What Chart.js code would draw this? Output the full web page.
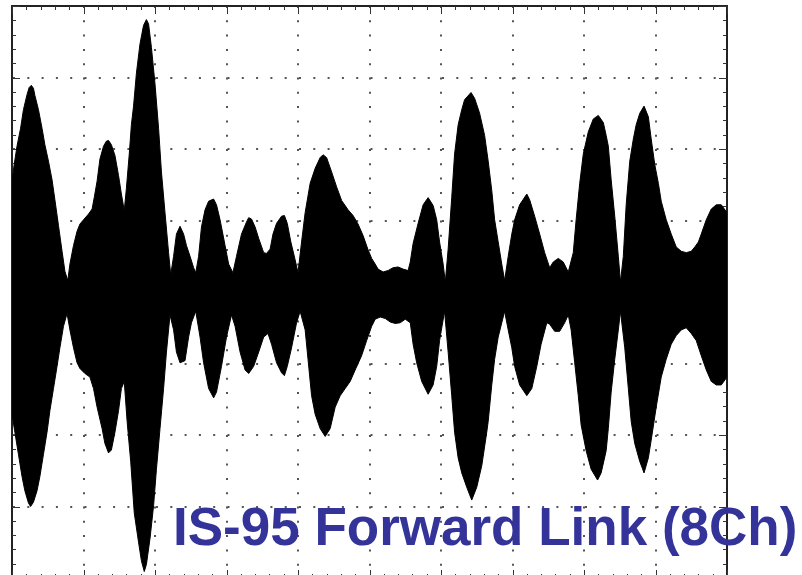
<!DOCTYPE html>
<html>
<head>
<meta charset="utf-8">
<script src="https://cdn.jsdelivr.net/npm/chart.js@4.4.0/dist/chart.umd.min.js"></script>
<style>
html,body{margin:0;padding:0;background:#fff;overflow:hidden;width:802px;height:575px;}
#wrap{position:relative;width:802px;height:575px;overflow:hidden;}
#c{position:absolute;left:0;top:0;}
#title{position:absolute;left:173px;top:500px;font-family:"Liberation Sans",Arial,sans-serif;font-weight:bold;font-size:53px;line-height:53px;color:#333399;white-space:nowrap;}
</style>
</head>
<body>
<div id="wrap">
<canvas id="c" width="802" height="580"></canvas>
<div id="title">IS-95 Forward Link (8Ch)</div>
</div>
<script>
// time in horizontal divisions, level in vertical divisions
const upperTime = [0, 0.03, 0.07, 0.12, 0.16, 0.21, 0.24, 0.27, 0.30, 0.32,
  0.37, 0.42, 0.46, 0.51, 0.56, 0.60, 0.65, 0.70, 0.74, 0.78,
  0.81, 0.86, 0.91, 0.95, 1.00, 1.07, 1.12, 1.15, 1.19, 1.23,
  1.28, 1.32, 1.35, 1.39, 1.44, 1.49, 1.53, 1.57, 1.60, 1.64,
  1.67, 1.70, 1.74, 1.79, 1.84, 1.88, 1.91, 1.95, 2.00, 2.05,
  2.09, 2.14, 2.19, 2.22, 2.26, 2.30, 2.35, 2.40, 2.44, 2.49,
  2.54, 2.57, 2.61, 2.65, 2.70, 2.75, 2.82, 2.86, 2.91, 2.98,
  3.03, 3.09, 3.14, 3.21, 3.28, 3.31, 3.35, 3.40, 3.45, 3.52,
  3.56, 3.61, 3.65, 3.70, 3.77, 3.81, 3.85, 3.90, 3.96, 4.00,
  4.05, 4.10, 4.17, 4.24, 4.31, 4.35, 4.40, 4.47, 4.54, 4.61,
  4.70, 4.77, 4.84, 4.91, 4.98, 5.03, 5.08, 5.12, 5.19, 5.26,
  5.33, 5.40, 5.47, 5.54, 5.57, 5.61, 5.68, 5.75, 5.82, 5.89,
  5.94, 5.98, 6.03, 6.06, 6.10, 6.15, 6.19, 6.24, 6.29, 6.33,
  6.42, 6.47, 6.54, 6.61, 6.66, 6.71, 6.75, 6.80, 6.85, 6.89,
  6.94, 6.99, 7.03, 7.10, 7.20, 7.24, 7.31, 7.38, 7.45, 7.52,
  7.57, 7.64, 7.71, 7.78, 7.85, 7.89, 7.94, 7.99, 8.06, 8.13,
  8.20, 8.27, 8.31, 8.34, 8.38, 8.43, 8.48, 8.51, 8.55, 8.59,
  8.64, 8.69, 8.73, 8.78, 8.84, 8.90, 8.94, 8.99, 9.04, 9.08,
  9.15, 9.22, 9.29, 9.36, 9.43, 9.50, 9.55, 9.60, 9.64, 9.71,
  9.78, 9.85, 9.92, 10.00];
const upperLevel = [1.55, 1.78, 2.04, 2.29, 2.55, 2.76, 2.86, 2.89, 2.85, 2.75,
  2.55, 2.29, 2.06, 1.83, 1.57, 1.29, 0.93, 0.57, 0.29, 0.16,
  0.39, 0.65, 0.85, 0.95, 1.01, 1.09, 1.16, 1.32, 1.55, 1.86,
  2.04, 2.11, 2.12, 2.06, 1.91, 1.63, 1.37, 1.14, 1.45, 1.93,
  2.34, 2.60, 3.06, 3.47, 3.73, 3.81, 3.75, 3.42, 2.91, 2.29,
  1.68, 1.11, 0.55, 0.24, 0.50, 0.81, 0.92, 0.81, 0.65, 0.50,
  0.34, 0.27, 0.50, 0.91, 1.15, 1.27, 1.30, 1.22, 1.01, 0.65,
  0.39, 0.27, 0.50, 0.81, 0.98, 1.04, 1.02, 0.91, 0.75, 0.55,
  0.54, 0.60, 0.81, 0.96, 1.06, 1.07, 0.96, 0.70, 0.45, 0.27,
  0.70, 1.11, 1.52, 1.73, 1.88, 1.92, 1.88, 1.68, 1.47, 1.28,
  1.15, 1.07, 0.95, 0.79, 0.59, 0.47, 0.39, 0.32, 0.28, 0.30,
  0.34, 0.35, 0.32, 0.30, 0.42, 0.68, 0.96, 1.22, 1.32, 1.21,
  1.01, 0.70, 0.39, 0.14, 0.60, 1.32, 1.93, 2.34, 2.55, 2.69,
  2.79, 2.71, 2.50, 2.19, 1.83, 1.42, 1.01, 0.70, 0.39, 0.16,
  0.50, 0.81, 1.01, 1.22, 1.37, 1.29, 1.06, 0.81, 0.55, 0.34,
  0.42, 0.47, 0.42, 0.28, 0.55, 1.01, 1.52, 1.93, 2.24, 2.42,
  2.47, 2.37, 2.19, 2.04, 1.57, 1.06, 0.50, 0.14, 0.50, 1.22,
  1.83, 2.14, 2.34, 2.50, 2.60, 2.45, 2.14, 1.78, 1.52, 1.27,
  1.01, 0.81, 0.63, 0.57, 0.55, 0.57, 0.63, 0.70, 0.81, 1.01,
  1.16, 1.22, 1.22, 1.11];
const lowerTime = [0, 0.04, 0.09, 0.14, 0.18, 0.23, 0.26, 0.30, 0.35, 0.39,
  0.44, 0.49, 0.53, 0.58, 0.63, 0.67, 0.72, 0.77, 0.81, 0.86,
  0.91, 0.95, 1.02, 1.09, 1.14, 1.19, 1.26, 1.30, 1.35, 1.39,
  1.44, 1.49, 1.53, 1.57, 1.61, 1.66, 1.71, 1.77, 1.81, 1.85,
  1.88, 1.93, 1.98, 2.02, 2.07, 2.12, 2.16, 2.21, 2.26, 2.30,
  2.35, 2.42, 2.47, 2.51, 2.57, 2.63, 2.68, 2.75, 2.82, 2.86,
  2.93, 3.00, 3.07, 3.12, 3.19, 3.26, 3.31, 3.38, 3.45, 3.52,
  3.58, 3.63, 3.70, 3.77, 3.81, 3.85, 3.91, 3.98, 4.03, 4.10,
  4.14, 4.19, 4.24, 4.31, 4.38, 4.45, 4.52, 4.59, 4.66, 4.73,
  4.80, 4.89, 4.96, 5.03, 5.08, 5.15, 5.22, 5.29, 5.36, 5.43,
  5.50, 5.57, 5.61, 5.66, 5.73, 5.82, 5.89, 5.94, 5.98, 6.05,
  6.10, 6.15, 6.19, 6.24, 6.29, 6.36, 6.43, 6.50, 6.57, 6.64,
  6.66, 6.71, 6.75, 6.80, 6.85, 6.89, 6.94, 6.99, 7.03, 7.10,
  7.20, 7.27, 7.34, 7.40, 7.48, 7.52, 7.59, 7.66, 7.73, 7.78,
  7.82, 7.87, 7.92, 7.96, 8.03, 8.10, 8.19, 8.24, 8.31, 8.34,
  8.38, 8.43, 8.48, 8.51, 8.57, 8.62, 8.66, 8.71, 8.78, 8.84,
  8.90, 8.94, 9.01, 9.08, 9.15, 9.22, 9.29, 9.36, 9.43, 9.50,
  9.57, 9.64, 9.71, 9.78, 9.85, 9.92, 10.00];
const lowerLevel = [-1.71, -1.96, -2.27, -2.58, -2.78, -2.95, -3.00, -2.94, -2.78, -2.58,
  -2.27, -1.96, -1.66, -1.35, -1.04, -0.78, -0.48, -0.30, -0.53, -0.78,
  -0.99, -1.07, -1.14, -1.19, -1.35, -1.61, -1.91, -2.12, -2.25, -2.21,
  -1.96, -1.66, -1.35, -1.25, -1.81, -2.37, -3.09, -3.50, -3.76, -3.91,
  -3.81, -3.45, -2.99, -2.48, -1.91, -1.35, -0.84, -0.32, -0.53, -0.84,
  -0.99, -0.96, -0.63, -0.43, -0.27, -0.63, -0.99, -1.35, -1.48, -1.40,
  -1.04, -0.63, -0.32, -0.48, -0.84, -1.09, -1.14, -1.04, -0.84, -0.63,
  -0.58, -0.73, -0.99, -1.13, -1.17, -1.04, -0.78, -0.43, -0.27, -0.53,
  -0.94, -1.45, -1.71, -1.91, -2.02, -1.91, -1.61, -1.45, -1.35, -1.25,
  -1.09, -0.89, -0.68, -0.48, -0.38, -0.35, -0.37, -0.42, -0.44, -0.43,
  -0.38, -0.43, -0.73, -0.99, -1.25, -1.43, -1.30, -1.04, -0.68, -0.27,
  -0.84, -1.45, -1.96, -2.32, -2.53, -2.73, -2.91, -2.73, -2.43, -1.96,
  -1.81, -1.30, -0.94, -0.63, -0.43, -0.27, -0.53, -0.78, -1.04, -1.30,
  -1.45, -1.35, -1.04, -0.73, -0.43, -0.45, -0.55, -0.55, -0.43, -0.32,
  -0.53, -0.99, -1.45, -1.86, -2.22, -2.48, -2.63, -2.53, -2.22, -1.91,
  -1.40, -0.94, -0.53, -0.27, -0.78, -1.35, -1.81, -2.12, -2.37, -2.53,
  -2.32, -2.07, -1.61, -1.19, -0.94, -0.73, -0.61, -0.53, -0.50, -0.58,
  -0.68, -0.89, -1.09, -1.25, -1.30, -1.30, -1.19];

const toPoints = (ts, vs) => ts.map((t, i) => ({x: t, y: vs[i]}));

const frameTicks = {
  id: 'frameTicks',
  beforeDatasetsDraw(chart) {
    const {ctx, chartArea: a} = chart;
    const xs = chart.scales.x, ys = chart.scales.y;
    ctx.save();
    ctx.strokeStyle = '#333';
    ctx.lineWidth = 1;
    ctx.beginPath();
    for (let i = Math.round(xs.min * 5); i <= Math.round(xs.max * 5); i++) {
      const px = Math.round(xs.getPixelForValue(i / 5)) + 0.5;
      const len = i % 5 === 0 ? 8 : 4;
      ctx.moveTo(px, a.top); ctx.lineTo(px, a.top + len);
      ctx.moveTo(px, a.bottom); ctx.lineTo(px, a.bottom - len);
    }
    for (let i = Math.round(ys.min * 5); i <= Math.round(ys.max * 5); i++) {
      const py = Math.round(ys.getPixelForValue(i / 5)) + 0.5;
      const len = i % 5 === 0 ? 8 : 4;
      ctx.moveTo(a.left, py); ctx.lineTo(a.left + len, py);
      ctx.moveTo(a.right, py); ctx.lineTo(a.right - len, py);
    }
    ctx.stroke();
    ctx.restore();
  }
};

const gridOpts = {color: '#555', lineWidth: 2, drawTicks: false};
const borderOpts = {display: true, color: '#222', width: 2, dash: [2, 12.3]};
const edgeAxis = (pos) => ({
  type: 'linear', position: pos, min: 0, max: 1,
  ticks: {display: false},
  grid: {drawOnChartArea: false, drawTicks: false},
  border: {display: true, color: '#222', width: 2}
});

new Chart(document.getElementById('c'), {
  type: 'line',
  data: {
    datasets: [
      {label: 'upper', data: toPoints(upperTime, upperLevel), fill: 'origin',
       backgroundColor: '#000', borderColor: '#000', borderWidth: 1, pointRadius: 0, tension: 0},
      {label: 'lower', data: toPoints(lowerTime, lowerLevel), fill: 'origin',
       backgroundColor: '#000', borderColor: '#000', borderWidth: 1, pointRadius: 0, tension: 0}
    ]
  },
  options: {
    responsive: false,
    animation: false,
    devicePixelRatio: 1,
    layout: {padding: {left: 12, top: 6, right: 75, bottom: 2}},
    plugins: {legend: {display: false}, tooltip: {enabled: false}, title: {display: false}},
    scales: {
      x: {type: 'linear', position: 'bottom', min: 0, max: 10,
          ticks: {display: false, stepSize: 1}, grid: gridOpts, border: borderOpts},
      y: {type: 'linear', position: 'left', min: -4, max: 4,
          ticks: {display: false, stepSize: 1}, grid: gridOpts, border: borderOpts},
      x2: edgeAxis('top'),
      y2: edgeAxis('right')
    }
  },
  plugins: [frameTicks]
});
</script>
</body>
</html>
